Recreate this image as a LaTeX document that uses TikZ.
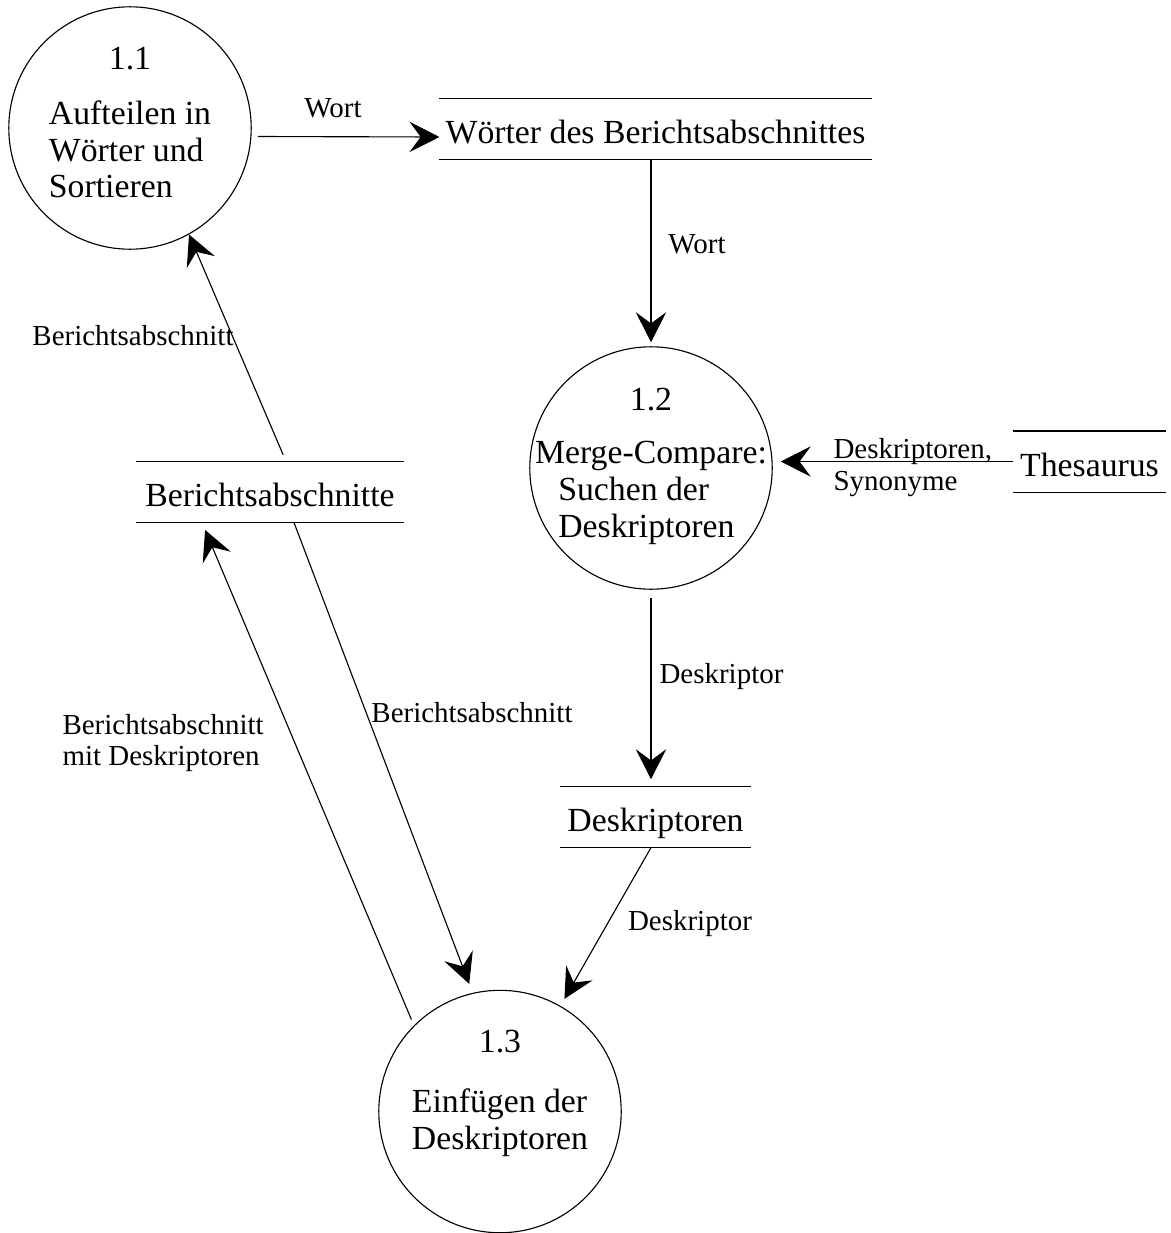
\documentclass[tikz,border=0pt]{standalone}
\usepackage{fontspec}
\setmainfont{Liberation Serif}
\usetikzlibrary{arrows.meta}
\begin{document}
\begin{tikzpicture}[line width=0.4pt,
 proc/.style={circle,draw,minimum size=3.03cm,inner sep=0},
 ptext/.style={inner sep=0,align=center,font=\fontsize{12}{13.1}\selectfont},
 store/.style={inner xsep=0,inner ysep=0,text height=0.56cm,text depth=0.19cm,font=\fontsize{12}{13.1}\selectfont},
 flow/.style={draw,-{Stealth[length=0.375cm,width=0.38cm,inset=0.14cm]}},
 lbl/.style={inner sep=0,align=left,font=\fontsize{10.3}{11.3}\selectfont}]
\useasboundingbox (0,0) rectangle (14.6375,-15.4125);
\node[proc,label={[ptext]center:1.1\\[0.225cm]\begin{tabular}[t]{@{}l@{}}Aufteilen in\\Wörter und\\Sortieren\end{tabular}}](p11) at (1.625,-1.6){};
\node[proc,label={[ptext]center:1.2\\[0.21cm]\begin{tabular}[t]{@{}l@{}}Merge-Compare:\\\hspace*{0.29cm}Suchen der\\\hspace*{0.29cm}Deskriptoren\end{tabular}}](p12) at (8.1375,-5.85){};
\node[proc,label={[ptext]center:1.3\\[0.29cm]\begin{tabular}[t]{@{}l@{}}Einfügen der\\Deskriptoren\rule[-0.55cm]{0pt}{0.55cm}\end{tabular}}](p13) at (6.25,-13.894){};
\node[store,minimum width=5.3875cm](ws) at (8.194,-1.6125){Wörter des Berichtsabschnittes};
\node[store,minimum width=1.8875cm](th) at (13.619,-5.769){Thesaurus};
\node[store,minimum width=3.325cm](bs) at (3.375,-6.15){Berichtsabschnitte};
\node[store,minimum width=2.3625cm](ds) at (8.194,-10.2125){Deskriptoren};
\foreach \s in {ws,th,bs,ds}
 \draw (\s.north west)--(\s.north east) (\s.south west)--(\s.south east);

\draw[flow,shorten <=0.08cm] (p11.-4) -- ([yshift=-0.1cm]ws.west);
\draw[flow,shorten >=0.05cm] (ws.south -| p12) -- (p12.north);
\draw[flow,shorten >=0.1cm] (th.west) -- (th.west -| p12.east);
\draw[flow,shorten <=0.1cm,shorten >=0.09cm] (p12.south) -- (p12.south |- ds.north);
\draw[flow,shorten >=0.1cm] (ds.south -| p12) -- (p13);
\draw[flow,shorten >=0.12cm] ([xshift=0.3cm]bs.south) -- (p13.103);
\draw[flow,shorten <=0.08cm,shorten >=0.1cm] (p13.135) -- ([xshift=-0.85cm]bs.south);
\draw[flow,shorten <=0.09cm] ([xshift=0.2cm]bs.north) -- (p11.-61);

\node[lbl](w1) at (4.1625,-1.35){Wort};
\node[lbl](w2) at (8.7125,-3.05){Wort};
\node[lbl,anchor=west](syn) at (10.4125,-5.84){Deskriptoren,\\Synonyme};
\node[lbl,anchor=west](d1) at (8.2375,-8.46){Deskriptor};
\node[lbl](d2) at (8.625,-11.55){Deskriptor};
\node[lbl](b1) at (1.6625,-4.2){Berichtsabschnitt};
\node[lbl](b2) at (5.9,-8.9125){Berichtsabschnitt};
\node[lbl,anchor=west](b3) at (0.775,-9.2875){Berichtsabschnitt\\mit Deskriptoren};
\end{tikzpicture}
\end{document}
